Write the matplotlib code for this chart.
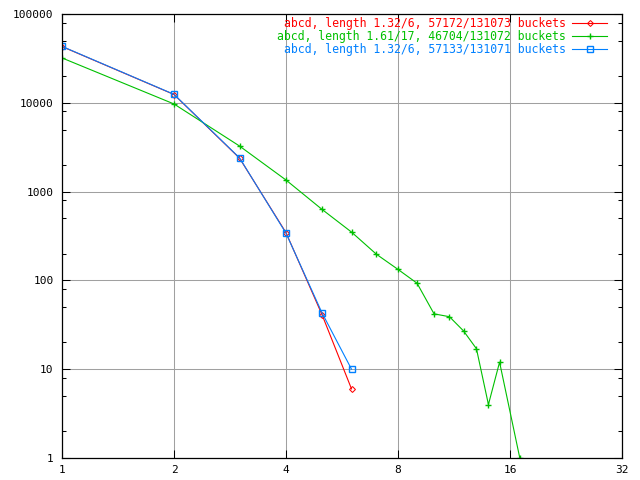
import matplotlib
matplotlib.use("Agg")
import matplotlib.pyplot as plt
from matplotlib.ticker import FixedLocator, FixedFormatter, NullFormatter

# chain length vs number of buckets
len_a = [1, 2, 3, 4, 5, 6]
cnt_a = [43000, 12400, 2380, 345, 41, 6]

len_b = [1, 2, 3, 4, 5, 6, 7, 8, 9, 10, 11, 12, 13, 14, 15, 17]
cnt_b = [32000, 9700, 3260, 1350, 630, 350, 197, 133, 93, 42, 39, 27, 17, 4, 12, 1]

len_c = [1, 2, 3, 4, 5, 6]
cnt_c = [43200, 12450, 2400, 340, 43, 10]

labels = ["abcd, length 1.32/6, 57172/131073 buckets",
          "abcd, length 1.61/17, 46704/131072 buckets",
          "abcd, length 1.32/6, 57133/131071 buckets"]

xticks = [1, 2, 4, 8, 16, 32]
yticks = [1, 10, 100, 1000, 10000, 100000]

plt.rcParams['font.family'] = 'DejaVu Sans Mono'
plt.rcParams['font.size'] = 8

fig = plt.figure(figsize=(6.4, 4.8), dpi=100)
ax = fig.add_axes([62 / 640, 22 / 480, 560 / 640, 444 / 480])

ax.plot(len_a, cnt_a, color='#ff0000', lw=0.8, marker='D', ms=3,
        mfc='none', mew=0.75, label=labels[0])
ax.plot(len_b, cnt_b, color='#00c000', lw=0.8, marker='+', ms=5,
        mew=1, label=labels[1])
ax.plot(len_c, cnt_c, color='#0080ff', lw=0.8, marker='s', ms=5,
        mfc='none', mew=1, label=labels[2])

ax.set_xscale('log', base=2)
ax.set_yscale('log')
ax.set_xlim(1, 32)
ax.set_ylim(1, 100000)

ax.xaxis.set_major_locator(FixedLocator(xticks))
ax.xaxis.set_major_formatter(FixedFormatter([str(v) for v in xticks]))
ax.xaxis.set_minor_locator(FixedLocator([]))
ax.yaxis.set_major_locator(FixedLocator(yticks))
ax.yaxis.set_major_formatter(FixedFormatter([str(v) for v in yticks]))
minor = [m * 10 ** e for e in range(0, 5) for m in (2, 5, 8)]
ax.yaxis.set_minor_locator(FixedLocator(minor))
ax.yaxis.set_minor_formatter(NullFormatter())

ax.tick_params(which='major', direction='in', length=6, width=0.75,
               top=True, right=True, pad=6)
ax.tick_params(which='minor', direction='in', length=3, width=0.75,
               top=True, right=True)
ax.tick_params(axis='x', pad=5)

ax.grid(True, which='major', color='#a0a0a0', lw=0.75)
for s in ax.spines.values():
    s.set_linewidth(0.9)

leg = ax.legend(loc='upper right', bbox_to_anchor=(0.973, 0.994),
                frameon=False, markerfirst=False, fontsize=8.3,
                handlelength=3.0, handletextpad=0.6, labelspacing=0.02,
                borderaxespad=0, borderpad=0)
for t, c in zip(leg.get_texts(), ['#ff0000', '#00c000', '#0080ff']):
    t.set_color(c)

fig.savefig('out.png', dpi=100)
